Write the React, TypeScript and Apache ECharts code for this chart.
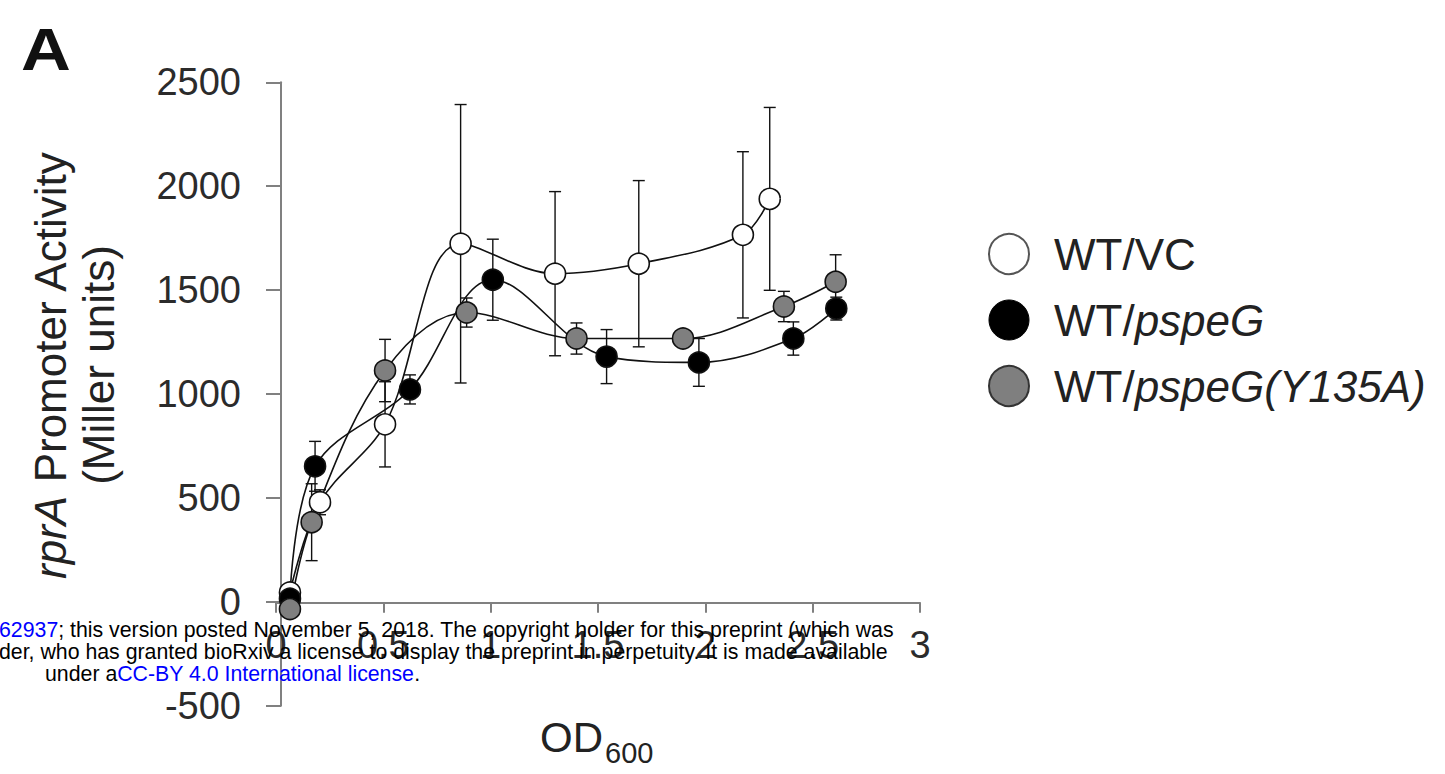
import React, { useEffect, useRef } from "react";
import * as echarts from "echarts";

// Axis ticks
const xTickValues = [0, 0.5, 1, 1.5, 2, 2.5, 3];
const yTickValues = [-500, 0, 500, 1000, 1500, 2000, 2500];

// Strain labels (legend order)
const strainNames = ["WT/VC", "WT/pspeG", "WT/pspeG(Y135A)"];

// WT/VC: OD600, mean activity, standard deviation
const vcOD = [0.065, 0.205, 0.508, 0.86, 1.3, 1.69, 2.175, 2.3];
const vcMean = [45, 479, 854, 1723, 1579, 1627, 1766, 1939];
const vcSD = [30, 60, 205, 670, 395, 400, 400, 440];

// WT/pspeG
const speGOD = [0.065, 0.182, 0.624, 1.01, 1.54, 1.97, 2.41, 2.61];
const speGMean = [15, 652, 1022, 1550, 1180, 1152, 1267, 1411];
const speGSD = [20, 120, 70, 195, 130, 115, 80, 55];

// WT/pspeG(Y135A)
const mutOD = [0.065, 0.166, 0.508, 0.888, 1.4, 1.896, 2.366, 2.607];
const mutMean = [-35, 383, 1113, 1392, 1267, 1267, 1421, 1540];
const mutSD = [20, 185, 150, 70, 75, 35, 73, 130];

const FONT = "'Liberation Sans', Arial, Helvetica, sans-serif";

const legendRich: Record<string, string> = {
  "WT/VC": "{s| }{n|WT/VC}",
  "WT/pspeG": "{s| }{n|WT/}{i|pspeG}",
  "WT/pspeG(Y135A)": "{s| }{n|WT/}{i|pspeG(Y135A)}",
};

function errorBars(id: string, od: number[], mean: number[], sd: number[]) {
  return {
    type: "custom",
    id,
    silent: true,
    z: 1,
    data: od.map((x, i) => [x, mean[i] - sd[i], mean[i] + sd[i]]),
    encode: { x: 0, y: [1, 2] },
    renderItem: (_params: any, api: any) => {
      const x = api.value(0);
      const lo = api.coord([x, api.value(1)]);
      const hi = api.coord([x, api.value(2)]);
      const w = 6;
      const style = { stroke: "#111", lineWidth: 1.4, fill: "none" };
      return {
        type: "group",
        children: [
          { type: "line", shape: { x1: lo[0], y1: lo[1], x2: hi[0], y2: hi[1] }, style },
          { type: "line", shape: { x1: lo[0] - w, y1: lo[1], x2: lo[0] + w, y2: lo[1] }, style },
          { type: "line", shape: { x1: hi[0] - w, y1: hi[1], x2: hi[0] + w, y2: hi[1] }, style },
        ],
      };
    },
  };
}

function curve(name: string, od: number[], mean: number[], fill: string) {
  return {
    type: "line",
    name,
    z: 3,
    smooth: 0.35,
    symbol: "circle",
    symbolSize: 21,
    data: od.map((x, i) => [x, mean[i]]),
    lineStyle: { color: "#111", width: 1.6 },
    itemStyle: { color: fill, borderColor: "#111", borderWidth: 1.6 },
  };
}

export default function App() {
  const ref = useRef<HTMLDivElement>(null);

  useEffect(() => {
    if (!ref.current) return;
    const chart = echarts.init(ref.current, null, { renderer: "svg" });

    const option: any = {
      animation: false,
      backgroundColor: "#ffffff",
      grid: { left: 276, right: 525, top: 82.3, bottom: 68.3, containLabel: false },
      xAxis: {
        type: "value",
        min: xTickValues[0],
        max: xTickValues[xTickValues.length - 1],
        interval: 0.5,
        // the horizontal axis sits at activity = 0
        offset: -103,
        splitLine: { show: false },
        axisLine: { show: true, onZero: false, lineStyle: { color: "#808080", width: 2 } },
        axisTick: { show: true, length: 10, lineStyle: { color: "#808080", width: 2 } },
        axisLabel: {
          margin: 23,
          fontSize: 38,
          color: "#2b2b2b",
          fontFamily: FONT,
          formatter: (v: number) => String(v),
        },
      },
      yAxis: {
        type: "value",
        min: yTickValues[0],
        max: yTickValues[yTickValues.length - 1],
        interval: 500,
        offset: -5,
        splitLine: { show: false },
        axisLine: { show: true, onZero: false, lineStyle: { color: "#808080", width: 2 } },
        axisTick: { show: true, length: 15, lineStyle: { color: "#808080", width: 2 } },
        axisLabel: {
          margin: 40,
          fontSize: 38,
          color: "#2b2b2b",
          fontFamily: FONT,
          formatter: (v: number) => String(v),
        },
      },
      legend: {
        orient: "vertical",
        left: 988,
        top: 232,
        padding: 0,
        itemWidth: 40,
        itemHeight: 40,
        itemGap: 22,
        icon: "circle",
        selectedMode: false,
        data: [
          { name: strainNames[0], itemStyle: { color: "#fff", borderColor: "#555", borderWidth: 2 } },
          { name: strainNames[1], itemStyle: { color: "#000", borderColor: "#000", borderWidth: 1 } },
          { name: strainNames[2], itemStyle: { color: "#7f7f7f", borderColor: "#333", borderWidth: 2 } },
        ],
        formatter: (name: string) => legendRich[name],
        textStyle: {
          fontFamily: FONT,
          fontSize: 44,
          color: "#222",
          lineHeight: 40,
          rich: {
            s: { width: 20, fontSize: 44, lineHeight: 40 },
            n: { fontSize: 44, fontFamily: FONT, color: "#222", lineHeight: 40 },
            i: { fontSize: 44, fontFamily: FONT, fontStyle: "italic", color: "#222", lineHeight: 40 },
          },
        },
      },
      series: [
        errorBars("vc-err", vcOD, vcMean, vcSD),
        errorBars("speg-err", speGOD, speGMean, speGSD),
        errorBars("mut-err", mutOD, mutMean, mutSD),
        curve(strainNames[0], vcOD, vcMean, "#ffffff"),
        curve(strainNames[1], speGOD, speGMean, "#000000"),
        curve(strainNames[2], mutOD, mutMean, "#7f7f7f"),
      ],
      graphic: [
        {
          type: "text",
          x: 21,
          y: 49,
          scaleX: 1.15,
          style: { text: "A", font: `bold 60px ${FONT}`, fill: "#111", verticalAlign: "middle" },
        },
        {
          type: "text",
          x: 74,
          y: 365,
          rotation: Math.PI / 2,
          style: {
            text: "{i|rprA}{n| Promoter Activity}\n{n|(Miller units)}",
            align: "center",
            verticalAlign: "middle",
            rich: {
              i: { fontSize: 44, fontStyle: "italic", fontFamily: FONT, fill: "#222", lineHeight: 48 },
              n: { fontSize: 44, fontFamily: FONT, fill: "#222", lineHeight: 48 },
            },
          },
        },
        {
          type: "text",
          x: 540,
          y: 737,
          style: { text: "OD", font: `42px ${FONT}`, fill: "#222", align: "left", verticalAlign: "middle" },
        },
        {
          type: "text",
          x: 605,
          y: 753,
          style: { text: "600", font: `29px ${FONT}`, fill: "#222", align: "left", verticalAlign: "middle" },
        },
        {
          type: "text",
          x: -1,
          y: 630,
          z: 100,
          style: {
            text: "{b|62937}{k|; this version posted November 5, 2018. The copyright holder for this preprint (which was}",
            verticalAlign: "middle",
            rich: {
              b: { fontSize: 21.3, fontFamily: FONT, fill: "#0000ff" },
              k: { fontSize: 21.3, fontFamily: FONT, fill: "#000" },
            },
          },
        },
        {
          type: "text",
          x: -1,
          y: 652,
          z: 100,
          style: {
            text: "der, who has granted bioRxiv a license to display the preprint in perpetuity. It is made available",
            font: `21.3px ${FONT}`,
            fill: "#000",
            verticalAlign: "middle",
          },
        },
        {
          type: "text",
          x: 45,
          y: 674,
          z: 100,
          style: {
            text: "{k|under a}{b|CC-BY 4.0 International license}{k|.}",
            verticalAlign: "middle",
            rich: {
              b: { fontSize: 21.3, fontFamily: FONT, fill: "#0000ff" },
              k: { fontSize: 21.3, fontFamily: FONT, fill: "#000" },
            },
          },
        },
      ],
    };

    chart.setOption(option);
    return () => chart.dispose();
  }, []);

  return (
    <div
      ref={ref}
      style={{ position: "fixed", left: 0, top: 0, width: 1445, height: 774, background: "#fff" }}
    />
  );
}
